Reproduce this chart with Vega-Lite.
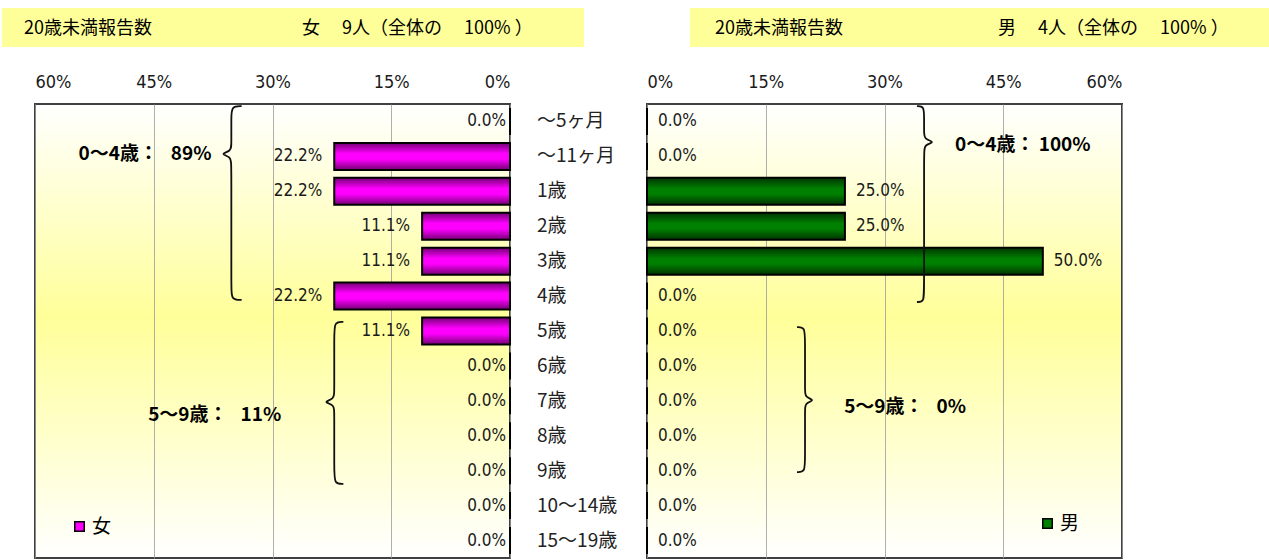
{
  "$schema": "https://vega.github.io/schema/vega-lite/v6.json",
  "padding": {"left": 0, "top": 6, "right": 0, "bottom": 3},
  "autosize": {"type": "pad"},
  "bounds": "flush",
  "spacing": 137,
  "config": {
    "font": "Noto Sans CJK JP",
    "view": {
      "fill": {"gradient": "linear", "x1": 0, "y1": 0, "x2": 0, "y2": 1,
        "stops": [{"offset": 0, "color": "#FFFFFF"}, {"offset": 0.47, "color": "#FFFF99"}, {"offset": 1, "color": "#FFFFFF"}]},
      "stroke": "#404040", "strokeWidth": 2
    },
    "axis": {"domain": false, "ticks": false, "labelPadding": 13, "grid": true, "gridColor": "#9a9a9a", "gridWidth": 0.8, "labelFontSize": 18, "labelFont": "DejaVu Sans Condensed, Liberation Sans, sans-serif", "labelColor": "#1a1a1a"},
    "text": {"font": "DejaVu Sans Condensed, Liberation Sans, sans-serif", "fontSize": 17, "color": "#1a1a1a", "baseline": "middle"}
  },
  "resolve": {"scale": {"color": "independent"}},
  "datasets": {
    "f": [
      {"age": "～5ヶ月", "row": 0, "v": 0, "sex": "女"},
      {"age": "～11ヶ月", "row": 1, "v": 0.222, "sex": "女"},
      {"age": "1歳", "row": 2, "v": 0.222, "sex": "女"},
      {"age": "2歳", "row": 3, "v": 0.111, "sex": "女"},
      {"age": "3歳", "row": 4, "v": 0.111, "sex": "女"},
      {"age": "4歳", "row": 5, "v": 0.222, "sex": "女"},
      {"age": "5歳", "row": 6, "v": 0.111, "sex": "女"},
      {"age": "6歳", "row": 7, "v": 0, "sex": "女"},
      {"age": "7歳", "row": 8, "v": 0, "sex": "女"},
      {"age": "8歳", "row": 9, "v": 0, "sex": "女"},
      {"age": "9歳", "row": 10, "v": 0, "sex": "女"},
      {"age": "10～14歳", "row": 11, "v": 0, "sex": "女"},
      {"age": "15～19歳", "row": 12, "v": 0, "sex": "女"}
    ],
    "m": [
      {"age": "～5ヶ月", "row": 0, "v": 0, "sex": "男"},
      {"age": "～11ヶ月", "row": 1, "v": 0, "sex": "男"},
      {"age": "1歳", "row": 2, "v": 0.25, "sex": "男"},
      {"age": "2歳", "row": 3, "v": 0.25, "sex": "男"},
      {"age": "3歳", "row": 4, "v": 0.5, "sex": "男"},
      {"age": "4歳", "row": 5, "v": 0, "sex": "男"},
      {"age": "5歳", "row": 6, "v": 0, "sex": "男"},
      {"age": "6歳", "row": 7, "v": 0, "sex": "男"},
      {"age": "7歳", "row": 8, "v": 0, "sex": "男"},
      {"age": "8歳", "row": 9, "v": 0, "sex": "男"},
      {"age": "9歳", "row": 10, "v": 0, "sex": "男"},
      {"age": "10～14歳", "row": 11, "v": 0, "sex": "男"},
      {"age": "15～19歳", "row": 12, "v": 0, "sex": "男"}
    ],
    "braceL": [
      {"b": 1, "i": 1, "x": 0.339, "r": -0.44},
      {"b": 1, "i": 2, "x": 0.352, "r": -0.44},
      {"b": 1, "i": 3, "x": 0.352, "r": -0.1},
      {"b": 1, "i": 4, "x": 0.352, "r": 0.65},
      {"b": 1, "i": 5, "x": 0.352, "r": 0.85},
      {"b": 1, "i": 6, "x": 0.367, "r": 0.93},
      {"b": 1, "i": 7, "x": 0.352, "r": 1.01},
      {"b": 1, "i": 8, "x": 0.352, "r": 1.25},
      {"b": 1, "i": 9, "x": 0.352, "r": 4.75},
      {"b": 1, "i": 10, "x": 0.352, "r": 5.11},
      {"b": 1, "i": 11, "x": 0.339, "r": 5.11},
      {"b": 2, "i": 1, "x": 0.2105, "r": 5.74},
      {"b": 2, "i": 2, "x": 0.222, "r": 5.74},
      {"b": 2, "i": 3, "x": 0.222, "r": 6.1},
      {"b": 2, "i": 4, "x": 0.222, "r": 7.75},
      {"b": 2, "i": 5, "x": 0.222, "r": 7.95},
      {"b": 2, "i": 6, "x": 0.237, "r": 8.03},
      {"b": 2, "i": 7, "x": 0.222, "r": 8.11},
      {"b": 2, "i": 8, "x": 0.222, "r": 8.31},
      {"b": 2, "i": 9, "x": 0.222, "r": 10.0},
      {"b": 2, "i": 10, "x": 0.222, "r": 10.38},
      {"b": 2, "i": 11, "x": 0.2105, "r": 10.38}
    ],
    "braceR": [
      {"b": 1, "i": 1, "x": 0.341, "r": -0.44},
      {"b": 1, "i": 2, "x": 0.35, "r": -0.44},
      {"b": 1, "i": 3, "x": 0.35, "r": -0.1},
      {"b": 1, "i": 4, "x": 0.35, "r": 0.31},
      {"b": 1, "i": 5, "x": 0.35, "r": 0.51},
      {"b": 1, "i": 6, "x": 0.365, "r": 0.59},
      {"b": 1, "i": 7, "x": 0.35, "r": 0.67},
      {"b": 1, "i": 8, "x": 0.35, "r": 0.87},
      {"b": 1, "i": 9, "x": 0.35, "r": 4.8},
      {"b": 1, "i": 10, "x": 0.35, "r": 5.17},
      {"b": 1, "i": 11, "x": 0.341, "r": 5.17},
      {"b": 2, "i": 1, "x": 0.1895, "r": 5.89},
      {"b": 2, "i": 2, "x": 0.1996, "r": 5.89},
      {"b": 2, "i": 3, "x": 0.1996, "r": 6.25},
      {"b": 2, "i": 4, "x": 0.1996, "r": 7.7},
      {"b": 2, "i": 5, "x": 0.1996, "r": 7.9},
      {"b": 2, "i": 6, "x": 0.213, "r": 7.98},
      {"b": 2, "i": 7, "x": 0.1996, "r": 8.06},
      {"b": 2, "i": 8, "x": 0.1996, "r": 8.26},
      {"b": 2, "i": 9, "x": 0.1996, "r": 9.7},
      {"b": 2, "i": 10, "x": 0.1996, "r": 10.04},
      {"b": 2, "i": 11, "x": 0.1895, "r": 10.04}
    ],
    "noteL": [
      {"t": "0～4歳：\u00a0\u00a0\u00a089%", "x": 0.377, "r": 0.93},
      {"t": "5～9歳：\u00a0\u00a0\u00a011%", "x": 0.289, "r": 8.41}
    ],
    "noteR": [
      {"t": "0～4歳：\u00a0100%", "x": 0.389, "r": 0.67},
      {"t": "5～9歳：\u00a0\u00a0\u00a00%", "x": 0.249, "r": 8.18}
    ],
    "headL": [{"x1": 0.6417, "x2": -0.0935, "r1": -3.25, "r2": -2.13}],
    "headR": [{"x1": 0.0543, "x2": 0.7882, "r1": -3.25, "r2": -2.13}],
    "headLt": [
      {"t": "20歳未満報告数", "x": 0.6139, "r": -2.65},
      {"t": "女\u3000\u00a09人（全体の\u3000\u00a0100%\u00a0）", "x": 0.2627, "r": -2.65}
    ],
    "headRt": [
      {"t": "20歳未満報告数", "x": 0.0859, "r": -2.65},
      {"t": "男\u3000\u00a04人（全体の\u3000\u00a0100%\u00a0）", "x": 0.4434, "r": -2.65}
    ]
  },
  "hconcat": [
    {
      "width": 475,
      "height": 454,
      "layer": [
        {
          "data": {"name": "f"},
          "mark": {"type": "bar", "orient": "horizontal", "height": 27},
          "encoding": {
            "y": {"field": "row", "type": "quantitative", "scale": {"domain": [-0.5, 12.5], "reverse": true, "nice": false, "zero": false, "padding": 0}, "axis": null},
            "x": {"field": "v", "type": "quantitative",
              "scale": {"domain": [0, 0.6], "reverse": true, "nice": false, "padding": 0},
              "axis": {"orient": "top", "values": [0, 0.15, 0.3, 0.45, 0.6], "format": ".0%", "title": null}},
            "color": {"field": "sex", "type": "nominal", "scale": {"domain": ["女"], "range": ["#FF00FF"]},
              "legend": {"title": null, "orient": "none", "legendX": 35, "legendY": 413, "symbolType": "square", "symbolSize": 90, "symbolStrokeColor": "#000", "symbolStrokeWidth": 1.5, "labelFontSize": 19, "labelFont": "Noto Sans CJK JP", "labelColor": "#000", "labelOffset": 3}}
          }
        },
        {
          "data": {"name": "f"},
          "mark": {"type": "bar", "orient": "horizontal", "height": 27, "stroke": "#000", "strokeWidth": 2,
            "fill": {"gradient": "linear", "x1": 0, "y1": 0, "x2": 0, "y2": 1,
              "stops": [{"offset": 0, "color": "rgba(0,0,0,0.55)"}, {"offset": 0.4, "color": "rgba(0,0,0,0)"}, {"offset": 0.6, "color": "rgba(0,0,0,0)"}, {"offset": 1, "color": "rgba(0,0,0,0.55)"}]}},
          "encoding": {
            "y": {"field": "row", "type": "quantitative", "axis": null},
            "x": {"field": "v", "type": "quantitative", "axis": {"orient": "top", "values": [0, 0.15, 0.3, 0.45, 0.6], "format": ".0%", "title": null}}
          }
        },
        {
          "data": {"name": "f"},
          "transform": [{"filter": "datum.v > 0"}],
          "mark": {"type": "text", "align": "right", "dx": -12},
          "encoding": {
            "y": {"field": "row", "type": "quantitative", "axis": null},
            "x": {"field": "v", "type": "quantitative", "axis": {"orient": "top", "values": [0, 0.15, 0.3, 0.45, 0.6], "format": ".0%", "title": null}},
            "text": {"field": "v", "type": "quantitative", "format": ".1%"}
          }
        },
        {
          "data": {"name": "f"},
          "transform": [{"filter": "datum.v == 0"}],
          "mark": {"type": "text", "align": "right", "dx": -4},
          "encoding": {
            "y": {"field": "row", "type": "quantitative", "axis": null},
            "x": {"field": "v", "type": "quantitative", "axis": {"orient": "top", "values": [0, 0.15, 0.3, 0.45, 0.6], "format": ".0%", "title": null}},
            "text": {"field": "v", "type": "quantitative", "format": ".1%"}
          }
        },
        {
          "data": {"name": "f"},
          "mark": {"type": "text", "align": "left", "font": "Noto Sans CJK JP", "fontSize": 19, "color": "#222"},
          "encoding": {
            "y": {"field": "row", "type": "quantitative", "axis": null},
            "x": {"datum": -0.0341, "type": "quantitative", "axis": {"orient": "top", "values": [0, 0.15, 0.3, 0.45, 0.6], "format": ".0%", "title": null}},
            "text": {"field": "age"}
          }
        },
        {
          "data": {"name": "headL"},
          "mark": {"type": "rect", "color": "#FFFF99"},
          "encoding": {
            "x": {"field": "x1", "type": "quantitative", "axis": {"orient": "top", "values": [0, 0.15, 0.3, 0.45, 0.6], "format": ".0%", "title": null}},
            "x2": {"field": "x2"},
            "y": {"field": "r1", "type": "quantitative", "axis": null},
            "y2": {"field": "r2"}
          }
        },
        {
          "data": {"name": "headLt"},
          "mark": {"type": "text", "align": "left", "font": "Noto Sans CJK JP", "fontSize": 18, "color": "#000"},
          "encoding": {
            "x": {"field": "x", "type": "quantitative", "axis": {"orient": "top", "values": [0, 0.15, 0.3, 0.45, 0.6], "format": ".0%", "title": null}},
            "y": {"field": "r", "type": "quantitative", "axis": null},
            "text": {"field": "t"}
          }
        },
        {
          "data": {"name": "braceL"},
          "mark": {"type": "line", "interpolate": "basis", "color": "#111", "strokeWidth": 1.8},
          "encoding": {
            "x": {"field": "x", "type": "quantitative", "axis": {"orient": "top", "values": [0, 0.15, 0.3, 0.45, 0.6], "format": ".0%", "title": null}},
            "y": {"field": "r", "type": "quantitative", "axis": null},
            "detail": {"field": "b"},
            "order": {"field": "i", "type": "quantitative"}
          }
        },
        {
          "data": {"name": "noteL"},
          "mark": {"type": "text", "align": "right", "font": "Noto Sans CJK JP", "fontWeight": "bold", "fontSize": 19, "color": "#000"},
          "encoding": {
            "x": {"field": "x", "type": "quantitative", "axis": {"orient": "top", "values": [0, 0.15, 0.3, 0.45, 0.6], "format": ".0%", "title": null}},
            "y": {"field": "r", "type": "quantitative", "axis": null},
            "text": {"field": "t"}
          }
        }
      ]
    },
    {
      "width": 475,
      "height": 454,
      "layer": [
        {
          "data": {"name": "m"},
          "mark": {"type": "bar", "orient": "horizontal", "height": 27},
          "encoding": {
            "y": {"field": "row", "type": "quantitative", "scale": {"domain": [-0.5, 12.5], "reverse": true, "nice": false, "zero": false, "padding": 0}, "axis": null},
            "x": {"field": "v", "type": "quantitative",
              "scale": {"domain": [0, 0.6], "nice": false, "padding": 0},
              "axis": {"orient": "top", "values": [0, 0.15, 0.3, 0.45, 0.6], "format": ".0%", "title": null}},
            "color": {"field": "sex", "type": "nominal", "scale": {"domain": ["男"], "range": ["#008000"]},
              "legend": {"title": null, "orient": "none", "legendX": 391, "legendY": 410, "symbolType": "square", "symbolSize": 90, "symbolStrokeColor": "#000", "symbolStrokeWidth": 1.5, "labelFontSize": 19, "labelFont": "Noto Sans CJK JP", "labelColor": "#000", "labelOffset": 3}}
          }
        },
        {
          "data": {"name": "m"},
          "mark": {"type": "bar", "orient": "horizontal", "height": 27, "stroke": "#000", "strokeWidth": 2,
            "fill": {"gradient": "linear", "x1": 0, "y1": 0, "x2": 0, "y2": 1,
              "stops": [{"offset": 0, "color": "rgba(0,0,0,0.6)"}, {"offset": 0.4, "color": "rgba(0,0,0,0)"}, {"offset": 0.6, "color": "rgba(0,0,0,0)"}, {"offset": 1, "color": "rgba(0,0,0,0.6)"}]}},
          "encoding": {
            "y": {"field": "row", "type": "quantitative", "axis": null},
            "x": {"field": "v", "type": "quantitative", "axis": {"orient": "top", "values": [0, 0.15, 0.3, 0.45, 0.6], "format": ".0%", "title": null}}
          }
        },
        {
          "data": {"name": "m"},
          "mark": {"type": "text", "align": "left", "dx": 11},
          "encoding": {
            "y": {"field": "row", "type": "quantitative", "axis": null},
            "x": {"field": "v", "type": "quantitative", "axis": {"orient": "top", "values": [0, 0.15, 0.3, 0.45, 0.6], "format": ".0%", "title": null}},
            "text": {"field": "v", "type": "quantitative", "format": ".1%"}
          }
        },
        {
          "data": {"name": "headR"},
          "mark": {"type": "rect", "color": "#FFFF99"},
          "encoding": {
            "x": {"field": "x1", "type": "quantitative", "axis": {"orient": "top", "values": [0, 0.15, 0.3, 0.45, 0.6], "format": ".0%", "title": null}},
            "x2": {"field": "x2"},
            "y": {"field": "r1", "type": "quantitative", "axis": null},
            "y2": {"field": "r2"}
          }
        },
        {
          "data": {"name": "headRt"},
          "mark": {"type": "text", "align": "left", "font": "Noto Sans CJK JP", "fontSize": 18, "color": "#000"},
          "encoding": {
            "x": {"field": "x", "type": "quantitative", "axis": {"orient": "top", "values": [0, 0.15, 0.3, 0.45, 0.6], "format": ".0%", "title": null}},
            "y": {"field": "r", "type": "quantitative", "axis": null},
            "text": {"field": "t"}
          }
        },
        {
          "data": {"name": "braceR"},
          "mark": {"type": "line", "interpolate": "basis", "color": "#111", "strokeWidth": 1.8},
          "encoding": {
            "x": {"field": "x", "type": "quantitative", "axis": {"orient": "top", "values": [0, 0.15, 0.3, 0.45, 0.6], "format": ".0%", "title": null}},
            "y": {"field": "r", "type": "quantitative", "axis": null},
            "detail": {"field": "b"},
            "order": {"field": "i", "type": "quantitative"}
          }
        },
        {
          "data": {"name": "noteR"},
          "mark": {"type": "text", "align": "left", "font": "Noto Sans CJK JP", "fontWeight": "bold", "fontSize": 19, "color": "#000"},
          "encoding": {
            "x": {"field": "x", "type": "quantitative", "axis": {"orient": "top", "values": [0, 0.15, 0.3, 0.45, 0.6], "format": ".0%", "title": null}},
            "y": {"field": "r", "type": "quantitative", "axis": null},
            "text": {"field": "t"}
          }
        }
      ]
    }
  ]
}
